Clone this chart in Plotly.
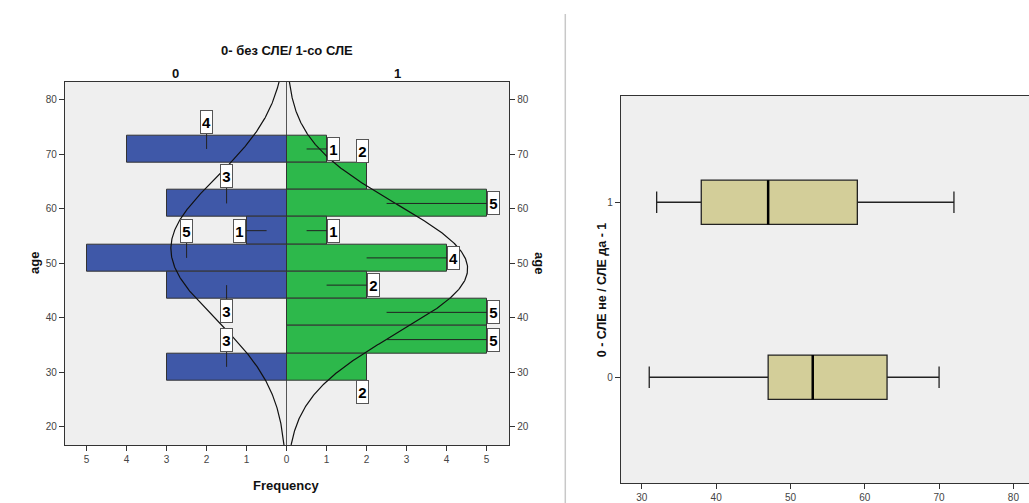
import numpy as np
import plotly.graph_objects as go

# ---- data -----------------------------------------------------------------
age_bins = [71, 66, 61, 56, 51, 46, 41, 36, 31]        # bin centres, years
bin_width = 5
freq_no_sle = [4, 0, 3, 1, 5, 3, 0, 0, 3]              # group 0 (без СЛЕ)
freq_sle = [1, 2, 5, 1, 4, 2, 5, 5, 2]                 # group 1 (со СЛЕ)

mean_no_sle, sd_no_sle = 52.7, 13.1
mean_sle, sd_sle = 49.0, 11.9

freq_ticks = [-5, -4, -3, -2, -1, 0, 1, 2, 3, 4, 5]
age_ticks = [20, 30, 40, 50, 60, 70, 80]

# boxplot summaries: group, lower whisker, Q1, median, Q3, upper whisker
box_groups = [1, 0]
box_low = [32, 31]
box_q1 = [38, 47]
box_med = [47, 53]
box_q3 = [59, 63]
box_high = [72, 70]
box_ticks = [30, 40, 50, 60, 70, 80]

# ---- styling / label placement ---------------------------------------------
W, H = 1029, 503
BLUE = "#3F58A8"
GREEN = "#2DB84B"
BOXFILL = "#D3CE99"
PLOTBG = "#EFEFEF"
EDGE = "#333333"
FONT = "Liberation Sans"

# where each count label sits relative to its bar
place_no_sle = ["above", None, "above", "end", "above", "below", None, None, "above"]
place_sle = ["end", "over", "end", "end", "end", "end", "end", "end", "under"]

AGE_MIN, AGE_MAX = 16.65, 83.35

fig = go.Figure()

# population pyramid bars
fig.add_trace(go.Bar(y=age_bins, x=[-v for v in freq_no_sle], orientation="h",
                     width=bin_width, marker=dict(color=BLUE, line=dict(color=EDGE, width=1)),
                     hoverinfo="skip", xaxis="x", yaxis="y", showlegend=False))
fig.add_trace(go.Bar(y=age_bins, x=freq_sle, orientation="h",
                     width=bin_width, marker=dict(color=GREEN, line=dict(color=EDGE, width=1)),
                     hoverinfo="skip", xaxis="x", yaxis="y", showlegend=False))

# fitted normal curves scaled to counts
ages = np.linspace(AGE_MIN, AGE_MAX, 400)


def normal_counts(n, mu, sd):
    return n * bin_width * np.exp(-0.5 * ((ages - mu) / sd) ** 2) / (sd * np.sqrt(2 * np.pi))


fig.add_trace(go.Scatter(x=-normal_counts(sum(freq_no_sle), mean_no_sle, sd_no_sle), y=ages,
                         mode="lines", line=dict(color="#111111", width=1.2),
                         hoverinfo="skip", xaxis="x", yaxis="y", showlegend=False))
fig.add_trace(go.Scatter(x=normal_counts(sum(freq_sle), mean_sle, sd_sle), y=ages,
                         mode="lines", line=dict(color="#111111", width=1.2),
                         hoverinfo="skip", xaxis="x", yaxis="y", showlegend=False))

# invisible trace so the mirrored right-hand age axis is rendered
fig.add_trace(go.Scatter(x=[0], y=[50], mode="markers", marker=dict(opacity=0),
                         hoverinfo="skip", xaxis="x", yaxis="y3", showlegend=False))

shapes = []
annotations = []


def add_count_labels(counts, places, sign):
    for centre, n, place in zip(age_bins, counts, places):
        if not place or n == 0:
            continue
        mid_x = sign * n / 2
        leader = True
        if place == "end":
            lx, ly = sign * (n + 0.17), centre
        elif place == "above":
            lx, ly = mid_x, centre + 5.0
        elif place == "below":
            lx, ly = mid_x, centre - 4.7
        elif place == "over":
            lx, ly, leader = sign * (n - 0.1), centre + 4.7, False
        else:  # under
            lx, ly, leader = sign * (n - 0.1), centre - 4.7, False
        if leader:
            shapes.append(dict(type="line", xref="x", yref="y", x0=mid_x, y0=centre,
                               x1=lx, y1=ly, line=dict(color="#222222", width=1)))
        annotations.append(dict(x=lx, y=ly, xref="x", yref="y", text=str(n), showarrow=False,
                                xanchor="center", yanchor="middle", width=9, height=20,
                                font=dict(family=FONT, size=15, color="black", weight="bold"),
                                bgcolor="white", bordercolor="#555555", borderwidth=1, borderpad=1))


add_count_labels(freq_no_sle, place_no_sle, -1)
add_count_labels(freq_sle, place_sle, 1)

# boxplots
for g, lo, q1, md, q3, hi in zip(box_groups, box_low, box_q1, box_med, box_q3, box_high):
    fig.add_trace(go.Box(y=[g], q1=[q1], median=[md], q3=[q3], lowerfence=[lo], upperfence=[hi],
                         orientation="h", width=0.253, whiskerwidth=0.49,
                         fillcolor=BOXFILL, line=dict(color="#222222", width=1.3),
                         hoverinfo="skip", xaxis="x2", yaxis="y2", showlegend=False))
    shapes.append(dict(type="line", xref="x2", yref="y2", x0=md, x1=md,
                       y0=g - 0.1265, y1=g + 0.1265, line=dict(color="black", width=2.5)))

# separator between the two panels
shapes.append(dict(type="line", xref="paper", yref="paper", x0=565.3 / W, x1=565.3 / W,
                   y0=0, y1=1 - 14 / H, line=dict(color="#C8C8C8", width=1.5)))

title_font = dict(family=FONT, size=13, color="#111111", weight="bold")


def paper_label(px, py, text, angle=0, font=title_font):
    return dict(x=px / W, y=1 - py / H, xref="paper", yref="paper", text=text,
                textangle=angle, showarrow=False, xanchor="center", yanchor="middle",
                font=font)


annotations += [
    paper_label(286.7, 50, "0- без СЛЕ/ 1-со СЛЕ"),
    paper_label(175.8, 73.3, "0"),
    paper_label(397.8, 73.3, "1"),
    paper_label(286.7, 485, "Frequency"),
    paper_label(34, 263, "age", -90),
    paper_label(540, 263, "age", 90),
    paper_label(601.7, 289.5, "0 - СЛЕ не / СЛЕ да - 1", -90,
                dict(family=FONT, size=12.5, color="#111111", weight="bold")),
]

tick_font = dict(family=FONT, size=10, color="#444444")
axis_common = dict(showgrid=False, ticks="outside", ticklen=5, tickcolor=EDGE,
                   tickfont=tick_font, linecolor=EDGE, linewidth=1.3, showline=True)

fig.update_layout(
    width=W, height=H, margin=dict(l=0, r=0, t=0, b=0),
    paper_bgcolor="white", plot_bgcolor=PLOTBG, barmode="overlay", bargap=0,
    showlegend=False, shapes=shapes, annotations=annotations,
    xaxis=dict(domain=[65 / W, 509 / W], range=[-5.54, 5.56], tickvals=freq_ticks,
               ticktext=[str(abs(v)) for v in freq_ticks], mirror=True, anchor="y",
               zeroline=True, zerolinecolor="#555555", zerolinewidth=1, fixedrange=True,
               **axis_common),
    yaxis=dict(domain=[1 - 445 / H, 1 - 81.7 / H], range=[AGE_MIN, AGE_MAX], tickvals=age_ticks,
               mirror=True, anchor="x", zeroline=False, **axis_common),
    yaxis3=dict(overlaying="y", side="right", anchor="x", range=[AGE_MIN, AGE_MAX],
                tickvals=age_ticks, zeroline=False, **axis_common),
    xaxis2=dict(domain=[621 / W, 1.0], range=[27.2, 82.1], tickvals=box_ticks, anchor="y2",
                zeroline=False, mirror=True, **axis_common),
    yaxis2=dict(domain=[1 - 483.3 / H, 1 - 95.7 / H], range=[-0.606, 1.609], tickvals=[0, 1],
                anchor="x2", zeroline=False, **axis_common),
)

fig.write_html("out.html")
